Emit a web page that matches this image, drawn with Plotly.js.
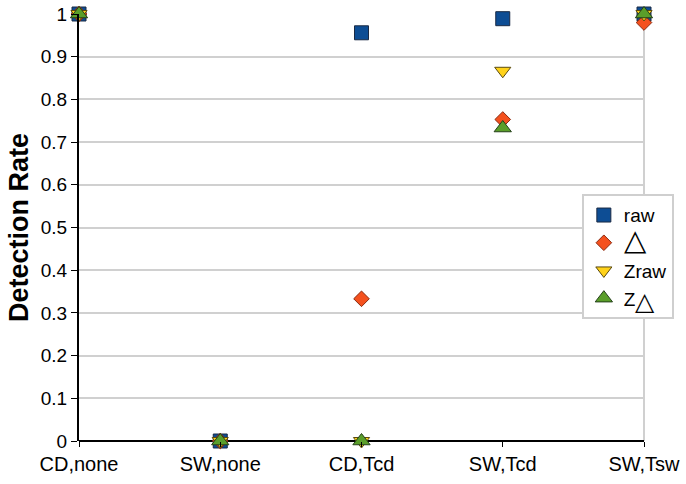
<!DOCTYPE html>
<html><head><meta charset="utf-8">
<script src="https://cdn.plot.ly/plotly-3.0.1.min.js"></script>
<style>body{margin:0;background:#fff}#chart{width:686px;height:484px}</style>
</head><body><div id="chart"></div>
<script>
var categories = ["CD,none", "SW,none", "CD,Tcd", "SW,Tcd", "SW,Tsw"];
var rawValues = [1, 0, 0.956, 0.989, 1];
var deltaValues = [1, 0, 0.333, 0.753, 0.98];
var zrawValues = [1, 0, 0, 0.867, 1];
var zdeltaValues = [1, 0, 0, 0.733, 1];
var seriesNames = ["raw", "<span style='font-size:29px'>△</span>", "Zraw", "Z<sub><span style='font-size:25px'>△</span></sub>"];
var yTicks = [0, 0.1, 0.2, 0.3, 0.4, 0.5, 0.6, 0.7, 0.8, 0.9, 1];
var yTickText = ["0", "0.1", "0.2", "0.3", "0.4", "0.5", "0.6", "0.7", "0.8", "0.9", "1"];

function tr(vals, name, sym, color, line, size) {
  return {x: categories, y: vals, name: name, type: "scatter", mode: "markers", cliponaxis: false,
    marker: {symbol: sym, color: color, size: size, line: {color: line, width: 1}}};
}
var data = [
  tr(rawValues, seriesNames[0], "square", "#0d4d94", "#1a2a44", 14),
  tr(deltaValues, seriesNames[1], "diamond", "#f4511e", "#8a2a10", 12),
  tr(zrawValues, seriesNames[2], "triangle-down", "#ffd21a", "#5a4a10", 14),
  tr(zdeltaValues, seriesNames[3], "triangle-up", "#5a9e2a", "#24401a", 15)
];
var layout = {
  width: 686, height: 484,
  margin: {l: 79, r: 39, t: 14, b: 43},
  paper_bgcolor: "#fff", plot_bgcolor: "#fff",
  font: {family: "Liberation Sans, Arial, sans-serif", size: 20, color: "#000"},
  showlegend: true,
  legend: {x: 0.89, y: 0.578, xanchor: "left", yanchor: "top", bgcolor: "#fff",
    bordercolor: "#cfcfcf", borderwidth: 2, font: {size: 19}, tracegroupgap: 3, itemwidth: 30},
  xaxis: {type: "category", range: [0, 4], showgrid: false, zeroline: false, automargin: false,
    showline: false, ticks: "outside", ticklen: 5, tickcolor: "#000",
    tickfont: {size: 20}},
  yaxis: {range: [0, 1], tickvals: yTicks, ticktext: yTickText, showgrid: true, automargin: false,
    gridcolor: "#d0d0d0", gridwidth: 2, zeroline: true, zerolinecolor: "#000", zerolinewidth: 2,
    showline: true, linecolor: "#000", linewidth: 2, ticks: "outside", ticklen: 6, tickcolor: "#000",
    tickfont: {size: 19}, title: {text: "<b>Detection Rate</b>", font: {size: 27}, standoff: 4}},
  shapes: [{type: "line", xref: "paper", yref: "paper", x0: 1, x1: 1, y0: 0, y1: 1,
    line: {color: "#d0d0d0", width: 2}, layer: "below"}]
};
Plotly.newPlot("chart", data, layout, {displayModeBar: false});
</script></body></html>
